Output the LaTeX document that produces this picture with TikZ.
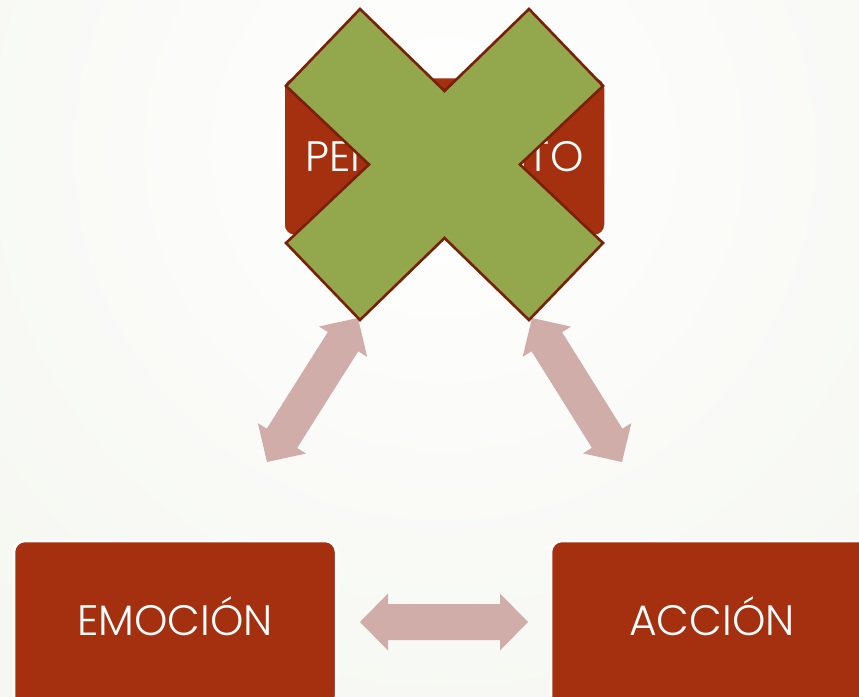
\documentclass[tikz,border=0pt]{standalone}
\usepackage{fontspec}
\setmainfont{Poppins Light}
\usetikzlibrary{calc}
\definecolor{boxred}{HTML}{A5300F}
\definecolor{crossgreen}{HTML}{93A84D}
\definecolor{crossline}{HTML}{7A1F08}
\definecolor{arrowpink}{HTML}{D1ADAA}
\definecolor{bgc}{HTML}{EAEEE0}
% block double arrow between two named points
\newcommand\blockarrow[2]{%
  \coordinate (h1) at ($(#1)!28pt!(#2)$);
  \coordinate (h2) at ($(#2)!28pt!(#1)$);
  \fill[arrowpink] (#1)
    -- ($(h1)!28.5pt!90:(#2)$) -- ($(h1)!18pt!90:(#2)$)
    -- ($(h2)!18pt!-90:(#1)$) -- ($(h2)!28.5pt!-90:(#1)$)
    -- (#2)
    -- ($(h2)!28.5pt!90:(#1)$) -- ($(h2)!18pt!90:(#1)$)
    -- ($(h1)!18pt!-90:(#2)$) -- ($(h1)!28.5pt!-90:(#2)$)
    -- cycle;}
\begin{document}
\begin{tikzpicture}[x=1pt,y=-1pt,
  box/.style={rounded corners=11pt, fill=boxred, draw=white, line width=2.5pt,
    minimum width=322pt, minimum height=159pt, inner sep=0pt, text=white,
    text height=29.7pt, text depth=0pt,
    font=\fontsize{42.5}{50}\selectfont},
  lowbox/.style={box, minimum height=166pt, text depth=7pt},
  cross/.style={fill=crossgreen, draw=crossline, line width=2.6pt, line join=miter}]
\useasboundingbox (0,0) rectangle (859,696);
\begin{scope}
  \clip (0,0) rectangle (859,696);
  \shade[inner color=white, outer color=bgc] (444,150) circle (1400);

  % connectors
  \coordinate (pe) at (358,318);
  \coordinate (ep) at (267,462);
  \coordinate (pa) at (532,318);
  \coordinate (ap) at (622,462);
  \coordinate (ea) at (360,622);
  \coordinate (ae) at (528,622);
  \blockarrow{pe}{ep}
  \blockarrow{pa}{ap}
  \blockarrow{ea}{ae}

  % boxes
  \node[box] (pens) at (444.5,156.5) {PENSAMIENTO};
  \node[lowbox] (emo) at (175,624) {EMOCIÓN};
  \node[lowbox] (acc) at (712,624) {ACCIÓN};

  % crossing-out mark
  \draw[cross] (360,9) -- (444.5,91) -- (529,9) -- (603,86) -- (520,164.5)
    -- (603,243) -- (529,320) -- (444.5,238) -- (360,320) -- (286,243)
    -- (369,164.5) -- (286,86) -- cycle;
\end{scope}
\end{tikzpicture}
\end{document}
